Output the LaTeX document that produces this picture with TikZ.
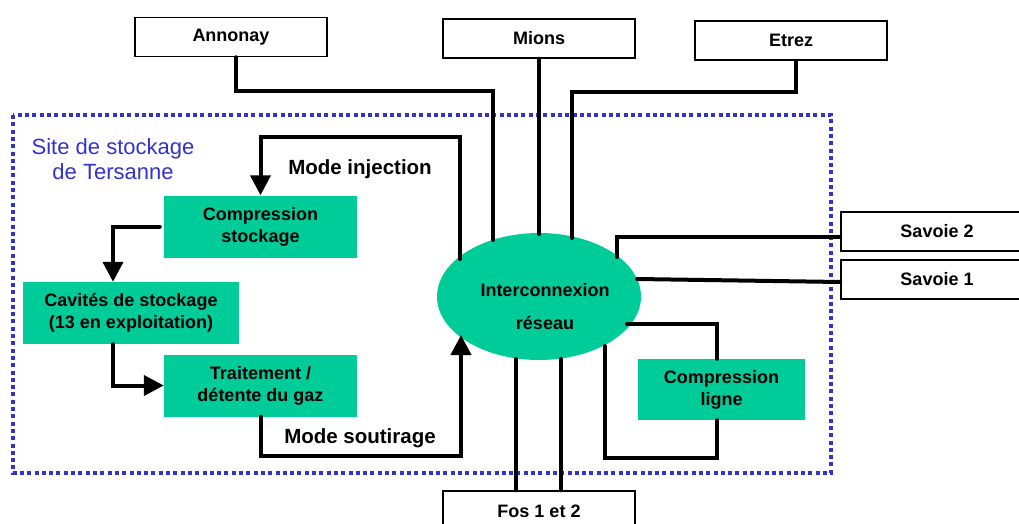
\documentclass[tikz,border=0pt]{standalone}
\usepackage{xcolor}
\usepackage{fontspec}
\setmainfont{Liberation Sans}
\usepackage{tikz}
\usetikzlibrary{positioning, arrows.meta, shapes}

\definecolor{gasgreen}{RGB}{0,204,153}
\definecolor{siteblue}{RGB}{51,51,204}

\begin{document}
\begin{tikzpicture}[x=1pt, y=-1pt,
    station/.style={draw, line width=1.5pt, minimum width=192pt, minimum height=39pt, inner sep=0pt,
        font=\bfseries\fontsize{18}{22}\selectfont},
    unit/.style={fill=gasgreen, minimum height=62pt, inner sep=0pt, align=center,
        font=\bfseries\fontsize{18}{22}\selectfont},
    pipe/.style={line width=4pt, line cap=round},
    flow/.style={pipe, -{Triangle[width=20pt,length=20pt]}},
    modelabel/.style={font=\bfseries\fontsize{20.5}{24}\selectfont}]
    \useasboundingbox (0,0) rectangle (1019,524);

    % site de stockage
    \draw[siteblue, line width=3.5pt, dash pattern=on 4pt off 3.3pt] (13,115) rectangle (831,473);
    \node[siteblue, align=center, font=\fontsize{22}{25}\selectfont] (sitename) at (113,159.5) {Site de stockage\\de Tersanne};

    \node[station] (annonay) at (231,37) {Annonay};
    \node[station] (mions) at (539,38.5) {Mions};
    \node[station] (etrez) at (791,40.5) {Etrez};
    \node[station] (savoie2) at (937,231.5) {Savoie 2};
    \node[station] (savoie1) at (937,279.5) {Savoie 1};
    \node[station, minimum height=40pt] (fos) at (539,511) {Fos 1 et 2};

    \node[unit, minimum width=193pt] (stock) at (260.5,226.5) {Compression\\stockage};
    \node[unit, minimum width=216pt] (cav) at (131,313) {Cavités de stockage\\(13 en exploitation)};
    \node[unit, minimum width=193pt] (trait) at (260.5,385.5) {Traitement /\\détente du gaz};
    \node[unit, minimum width=167pt, minimum height=61pt] (ligne) at (721.5,389.5) {Compression\\ligne};

    \node[ellipse, fill=gasgreen, minimum width=204pt, minimum height=127pt, inner sep=0pt] (net) at (539,296.5) {};
    \node[align=center, font=\bfseries\fontsize{18}{22}\selectfont] (netlabel) at (545,307) {Interconnexion\\[11pt]réseau};

    % points on the ellipse
    \coordinate (nA) at (493,240);
    \coordinate (nM) at (539,234);
    \coordinate (nE) at (572,238);
    \coordinate (nI) at (460,259);
    \coordinate (nS) at (461,335);
    \coordinate (nS2) at (617,257);
    \coordinate (nS1) at (637,279);
    \coordinate (nL1) at (627,324);
    \coordinate (nL2) at (605,346);
    \coordinate (nF1) at (516,359);
    \coordinate (nF2) at (561,359);

    \draw[pipe] ([xshift=5pt]annonay.south) -- ++(0,34) -| (nA);
    \draw[pipe] (mions.south) -- (nM);
    \draw[pipe] ([xshift=5pt]etrez.south) -- ++(0,31) -| (nE);
    \draw[pipe] (nS2) |- ([yshift=-5.5pt]savoie2.west);
    \draw[pipe] (nS1) -- ([yshift=-2.5pt]savoie1.west);
    \draw[pipe] (nL1) -| ([xshift=-4.5pt]ligne.north);
    \draw[pipe] ([xshift=-4.5pt]ligne.south) -- ++(0,38) -| (nL2);
    \draw[pipe] (nF1) -- (nF1 |- fos.north);
    \draw[pipe] (nF2) -- (nF2 |- fos.north);

    \draw[flow] (nI) |- ([yshift=58pt]stock.north) -- (stock.north);
    \draw[flow] ([xshift=-4pt]stock.west) -| ([xshift=-18pt]cav.north);
    \draw[flow] ([xshift=-18pt]cav.south) |- (trait.west);
    \draw[flow] (trait.south) -- ++(0,39) -| (nS);

    \node[modelabel] (inj) at (360,169) {Mode injection};
    \node[modelabel] (sout) at (360,438) {Mode soutirage};
\end{tikzpicture}
\end{document}
